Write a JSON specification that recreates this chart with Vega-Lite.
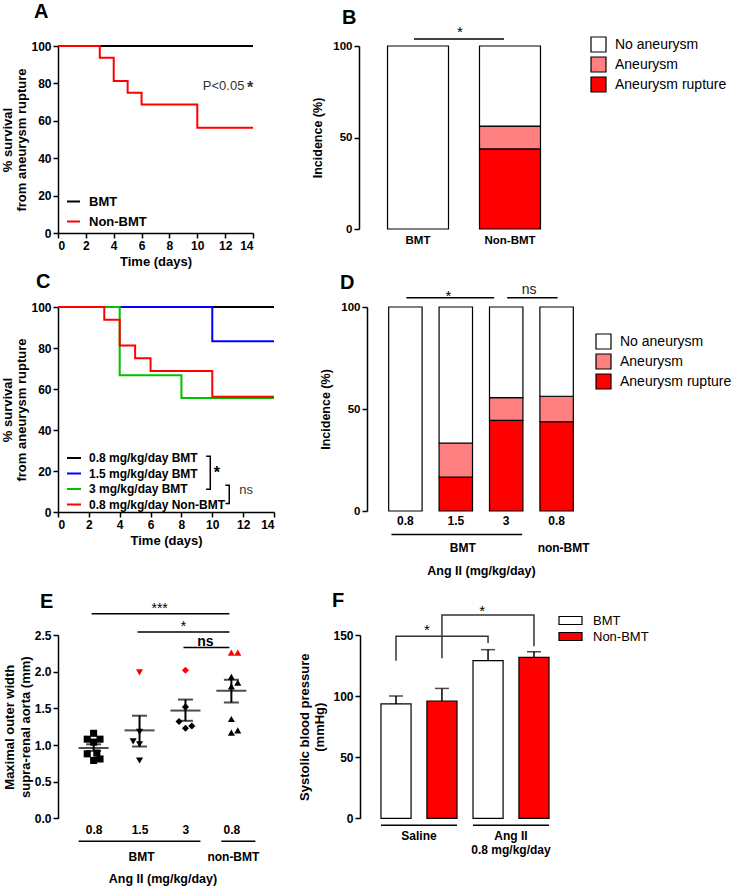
{
"$schema":"https://vega.github.io/schema/vega-lite/v6.json",
"padding":{"left":1,"top":2,"right":2,"bottom":2},
"background":"white",
"config":{
  "font":"Liberation Sans",
  "view":{"stroke":null},
  "title":{"fontSize":20,"fontWeight":"bold","anchor":"start","frame":"group","color":"black","font":"Liberation Sans"},
  "axis":{"labelFont":"Liberation Sans","titleFont":"Liberation Sans","labelFontWeight":"bold","titleFontWeight":"bold","labelFontSize":12,"titleFontSize":13,"labelColor":"black","titleColor":"black","domainColor":"black","tickColor":"black","domainWidth":1.5,"tickWidth":1.5,"tickSize":5,"grid":false,"labelPadding":2,"titlePadding":2,"labelOverlap":false},
  "legend":{"labelFont":"Liberation Sans","labelColor":"black","titleFont":"Liberation Sans"},
  "text":{"font":"Liberation Sans","color":"black"}
},
"datasets":{
  "survA":[
    {"day":0,"pct":100,"group":"BMT"},{"day":14,"pct":100,"group":"BMT"},
    {"day":0,"pct":100,"group":"Non-BMT"},{"day":3,"pct":93.75,"group":"Non-BMT"},{"day":4,"pct":81.25,"group":"Non-BMT"},{"day":5,"pct":75,"group":"Non-BMT"},{"day":6,"pct":68.75,"group":"Non-BMT"},{"day":10,"pct":56.25,"group":"Non-BMT"},{"day":14,"pct":56.25,"group":"Non-BMT"}],
  "incB":[
    {"grp":"BMT","status":"No aneurysm","pct":100,"k":3},
    {"grp":"Non-BMT","status":"Aneurysm rupture","pct":43.75,"k":1},
    {"grp":"Non-BMT","status":"Aneurysm","pct":12.5,"k":2},
    {"grp":"Non-BMT","status":"No aneurysm","pct":43.75,"k":3}],
  "survC":[
    {"day":0,"pct":100,"group":"0.8 mg/kg/day BMT"},{"day":14,"pct":100,"group":"0.8 mg/kg/day BMT"},
    {"day":0,"pct":100,"group":"1.5 mg/kg/day BMT"},{"day":10,"pct":83.33,"group":"1.5 mg/kg/day BMT"},{"day":14,"pct":83.33,"group":"1.5 mg/kg/day BMT"},
    {"day":0,"pct":100,"group":"3 mg/kg/day BMT"},{"day":4,"pct":66.67,"group":"3 mg/kg/day BMT"},{"day":8,"pct":55.56,"group":"3 mg/kg/day BMT"},{"day":14,"pct":55.56,"group":"3 mg/kg/day BMT"},
    {"day":0,"pct":100,"group":"0.8 mg/kg/day Non-BMT"},{"day":3,"pct":93.75,"group":"0.8 mg/kg/day Non-BMT"},{"day":4,"pct":81.25,"group":"0.8 mg/kg/day Non-BMT"},{"day":5,"pct":75,"group":"0.8 mg/kg/day Non-BMT"},{"day":6,"pct":68.75,"group":"0.8 mg/kg/day Non-BMT"},{"day":10,"pct":56.25,"group":"0.8 mg/kg/day Non-BMT"},{"day":14,"pct":56.25,"group":"0.8 mg/kg/day Non-BMT"}],
  "incD":[
    {"grp":"0.8 BMT","status":"No aneurysm","pct":100,"k":3},
    {"grp":"1.5 BMT","status":"Aneurysm rupture","pct":16.67,"k":1},
    {"grp":"1.5 BMT","status":"Aneurysm","pct":16.67,"k":2},
    {"grp":"1.5 BMT","status":"No aneurysm","pct":66.66,"k":3},
    {"grp":"3 BMT","status":"Aneurysm rupture","pct":44.44,"k":1},
    {"grp":"3 BMT","status":"Aneurysm","pct":11.11,"k":2},
    {"grp":"3 BMT","status":"No aneurysm","pct":44.45,"k":3},
    {"grp":"0.8 non-BMT","status":"Aneurysm rupture","pct":43.75,"k":1},
    {"grp":"0.8 non-BMT","status":"Aneurysm","pct":12.5,"k":2},
    {"grp":"0.8 non-BMT","status":"No aneurysm","pct":43.75,"k":3}],
  "ptsE":[
    {"grp":"0.8 BMT","v":1.16,"lane":"c","rupt":"no"},{"grp":"0.8 BMT","v":1.08,"lane":"a","rupt":"no"},{"grp":"0.8 BMT","v":1.08,"lane":"e","rupt":"no"},{"grp":"0.8 BMT","v":1.04,"lane":"c","rupt":"no"},
    {"grp":"0.8 BMT","v":0.88,"lane":"a","rupt":"no"},{"grp":"0.8 BMT","v":0.89,"lane":"d","rupt":"no"},{"grp":"0.8 BMT","v":0.81,"lane":"e","rupt":"no"},{"grp":"0.8 BMT","v":0.79,"lane":"c","rupt":"no"},
    {"grp":"1.5 BMT","v":1.99,"lane":"c","rupt":"yes"},{"grp":"1.5 BMT","v":1.18,"lane":"c","rupt":"no"},{"grp":"1.5 BMT","v":1.05,"lane":"a","rupt":"no"},{"grp":"1.5 BMT","v":1.01,"lane":"c","rupt":"no"},{"grp":"1.5 BMT","v":0.79,"lane":"c","rupt":"no"},
    {"grp":"3 BMT","v":2.02,"lane":"c","rupt":"yes"},{"grp":"3 BMT","v":1.52,"lane":"c","rupt":"no"},{"grp":"3 BMT","v":1.32,"lane":"a","rupt":"no"},{"grp":"3 BMT","v":1.23,"lane":"c","rupt":"no"},{"grp":"3 BMT","v":1.26,"lane":"e","rupt":"no"},
    {"grp":"0.8 non-BMT","v":2.26,"lane":"c","rupt":"yes"},{"grp":"0.8 non-BMT","v":2.26,"lane":"e","rupt":"yes"},{"grp":"0.8 non-BMT","v":1.93,"lane":"c","rupt":"no"},{"grp":"0.8 non-BMT","v":1.85,"lane":"e","rupt":"no"},
    {"grp":"0.8 non-BMT","v":1.8,"lane":"c","rupt":"no"},{"grp":"0.8 non-BMT","v":1.355,"lane":"c","rupt":"no"},{"grp":"0.8 non-BMT","v":1.17,"lane":"c","rupt":"no"},{"grp":"0.8 non-BMT","v":1.2,"lane":"e","rupt":"no"}],
  "statsE":[
    {"grp":"0.8 BMT","mean":0.96,"lo":0.92,"hi":1.01},
    {"grp":"1.5 BMT","mean":1.2,"lo":0.98,"hi":1.4},
    {"grp":"3 BMT","mean":1.47,"lo":1.33,"hi":1.62},
    {"grp":"0.8 non-BMT","mean":1.74,"lo":1.58,"hi":1.89}],
  "bpF":[
    {"grp":"Saline","tx":"BMT","m":93.6,"hi":100.1},
    {"grp":"Saline","tx":"Non-BMT","m":96,"hi":106.3},
    {"grp":"Ang II","tx":"BMT","m":129,"hi":138},
    {"grp":"Ang II","tx":"Non-BMT","m":131.7,"hi":136.3}],
  "brF":[
    {"b":1,"o":1,"grp":"Saline","tx":"BMT","y":129},{"b":1,"o":2,"grp":"Saline","tx":"BMT","y":148.9},{"b":1,"o":3,"grp":"Ang II","tx":"BMT","y":148.9},{"b":1,"o":4,"grp":"Ang II","tx":"BMT","y":143.4},
    {"b":2,"o":1,"grp":"Saline","tx":"Non-BMT","y":130.9},{"b":2,"o":2,"grp":"Saline","tx":"Non-BMT","y":166.3},{"b":2,"o":3,"grp":"Ang II","tx":"Non-BMT","y":166.3},{"b":2,"o":4,"grp":"Ang II","tx":"Non-BMT","y":140.7}]
},
"spacing":4,
"resolve":{"scale":{"color":"independent","shape":"independent","xOffset":"independent"},"legend":{"color":"independent","shape":"independent"}},
"vconcat":[
 {"spacing":54,
  "resolve":{"scale":{"color":"independent","shape":"independent","xOffset":"independent"},"legend":{"color":"independent","shape":"independent"}},
  "hconcat":[
  {"width":195,"height":187,
   "title":{"text":"A","dx":-24,"offset":18},
   "layer":[
    {"data":{"name":"survA"},
     "mark":{"type":"line","interpolate":"step-after","strokeWidth":2},
     "encoding":{
      "x":{"field":"day","type":"quantitative","scale":{"domain":[0,14],"nice":false},"axis":{"values":[0,2,4,6,8,10,12,14],"tickCount":20,"format":"d","labelOverlap":false,"title":"Time (days)","titlePadding":4}},
      "y":{"field":"pct","type":"quantitative","scale":{"domain":[0,100],"nice":false},"axis":{"values":[0,20,40,60,80,100],"tickCount":20,"format":"d","labelOverlap":false,"title":["% survival","from aneurysm rupture"],"titleLineHeight":14}},
      "color":{"field":"group","type":"nominal","scale":{"domain":["BMT","Non-BMT"],"range":["#000000","#ff0000"]},
        "legend":{"title":null,"orient":"none","legendX":8,"legendY":148,"symbolType":"stroke","symbolSize":169,"symbolStrokeWidth":2,"labelFontSize":13,"labelFontWeight":"bold","labelOffset":8,"rowPadding":5}}
     }},
    {"data":{"values":[{"day":10.4,"pct":78.5,"t":"P<0.05"}]},
     "mark":{"type":"text","align":"left","baseline":"middle","fontSize":13,"color":"#333333"},
     "encoding":{"x":{"field":"day","type":"quantitative"},"y":{"field":"pct","type":"quantitative"},"text":{"field":"t"}}},
    {"data":{"values":[{"day":13.8,"pct":77.5,"t":"*"}]},
     "mark":{"type":"text","align":"center","baseline":"middle","fontSize":16,"fontWeight":"bold","color":"#333333"},
     "encoding":{"x":{"field":"day","type":"quantitative"},"y":{"field":"pct","type":"quantitative"},"text":{"field":"t"}}}
   ]},
  {"width":210,"height":183,
   "title":{"text":"B","dx":-17,"offset":-3},
   "layer":[
    {"data":{"name":"incB"},
     "mark":{"type":"bar","stroke":"black","strokeWidth":1.2},
     "encoding":{
      "x":{"field":"grp","type":"nominal","scale":{"domain":["BMT","Non-BMT"],"paddingInner":0.337,"paddingOuter":0.31},"axis":{"title":null,"domain":false,"ticks":false,"labelAngle":0,"labelFontSize":11.5,"labelPadding":5}},
      "y":{"field":"pct","type":"quantitative","stack":"zero","scale":{"domain":[0,100],"nice":false},"axis":{"values":[0,50,100],"tickCount":10,"format":"d","title":"Incidence (%)","labelFontSize":11.5,"titleFontSize":12.5,"titlePadding":8}},
      "color":{"field":"status","type":"nominal","scale":{"domain":["No aneurysm","Aneurysm","Aneurysm rupture"],"range":["#ffffff","#ff8080","#ff0000"]},
        "legend":{"title":null,"orient":"none","legendX":231,"legendY":-10,"symbolType":"square","symbolSize":225,"symbolStrokeColor":"black","symbolStrokeWidth":1.2,"labelFontSize":14,"labelOffset":8,"rowPadding":-1}},
      "order":{"field":"k","type":"quantitative"}
     }},
    {"data":{"values":[{"a":"BMT","b":"Non-BMT","y":103.8}]},
     "mark":{"type":"rule","strokeWidth":1.5,"color":"black","xOffset":-4,"x2Offset":-6},
     "encoding":{"x":{"field":"a","type":"nominal"},"x2":{"field":"b"},"y":{"field":"y","type":"quantitative"}}},
    {"data":{"values":[{"a":"BMT","y":107.5,"t":"*"}]},
     "mark":{"type":"text","dx":42,"fontSize":15,"baseline":"middle"},
     "encoding":{"x":{"field":"a","type":"nominal"},"y":{"field":"y","type":"quantitative"},"text":{"field":"t"}}}
   ]}
 ]},
 {"spacing":41,
  "resolve":{"scale":{"color":"independent","shape":"independent","xOffset":"independent"},"legend":{"color":"independent","shape":"independent"}},
  "hconcat":[
  {"width":216,"height":205,
   "title":{"text":"C","dx":-22,"offset":9},
   "layer":[
    {"data":{"name":"survC"},
     "mark":{"type":"line","interpolate":"step-after","strokeWidth":2},
     "encoding":{
      "x":{"field":"day","type":"quantitative","scale":{"domain":[0,14],"nice":false},"axis":{"values":[0,2,4,6,8,10,12,14],"tickCount":20,"format":"d","labelOverlap":false,"title":"Time (days)","titlePadding":4}},
      "y":{"field":"pct","type":"quantitative","scale":{"domain":[0,100],"nice":false},"axis":{"values":[0,20,40,60,80,100],"tickCount":20,"format":"d","labelOverlap":false,"title":["% survival","from aneurysm rupture"],"titleLineHeight":14}},
      "color":{"field":"group","type":"nominal","scale":{"domain":["0.8 mg/kg/day BMT","1.5 mg/kg/day BMT","3 mg/kg/day BMT","0.8 mg/kg/day Non-BMT"],"range":["#000000","#0000ff","#00c000","#ff0000"]},
        "legend":{"title":null,"orient":"none","legendX":8,"legendY":143,"symbolType":"stroke","symbolSize":196,"symbolStrokeWidth":2,"labelFontSize":12,"labelFontWeight":"bold","labelOffset":7,"rowPadding":1.5}}
     }},
    {"data":{"values":[
      {"b":1,"o":1,"day":9.6,"pct":27.2},{"b":1,"o":2,"day":9.87,"pct":27.2},{"b":1,"o":3,"day":9.87,"pct":11.1},{"b":1,"o":4,"day":9.6,"pct":11.1},
      {"b":2,"o":1,"day":10.85,"pct":13},{"b":2,"o":2,"day":11.1,"pct":13},{"b":2,"o":3,"day":11.1,"pct":4.2},{"b":2,"o":4,"day":10.85,"pct":4.2}]},
     "mark":{"type":"line","color":"black","strokeWidth":1.5},
     "encoding":{"x":{"field":"day","type":"quantitative"},"y":{"field":"pct","type":"quantitative"},"order":{"field":"o","type":"quantitative"},"detail":{"field":"b","type":"nominal"}}},
    {"data":{"values":[{"day":10.1,"pct":19,"t":"*"}]},
     "mark":{"type":"text","align":"left","baseline":"middle","fontSize":16,"fontWeight":"bold"},
     "encoding":{"x":{"field":"day","type":"quantitative"},"y":{"field":"pct","type":"quantitative"},"text":{"field":"t"}}},
    {"data":{"values":[{"day":11.75,"pct":10.5,"t":"ns"}]},
     "mark":{"type":"text","align":"left","baseline":"middle","fontSize":13,"color":"#333333"},
     "encoding":{"x":{"field":"day","type":"quantitative"},"y":{"field":"pct","type":"quantitative"},"text":{"field":"t"}}}
   ]},
  {"width":228,"height":204,
   "title":{"text":"D","dx":-27,"offset":-10},
   "layer":[
    {"data":{"name":"incD"},
     "mark":{"type":"bar","stroke":"black","strokeWidth":1.2},
     "encoding":{
      "x":{"field":"grp","type":"nominal","scale":{"domain":["0.8 BMT","1.5 BMT","3 BMT","0.8 non-BMT"],"paddingInner":0.337,"paddingOuter":0.43},"axis":{"title":["Ang II (mg/kg/day)"," "],"titleLineHeight":9,"titlePadding":38,"titleFontSize":12.5,"domain":false,"ticks":false,"labelAngle":0,"labelFontSize":12,"labelPadding":4,"labelExpr":"split(datum.value, ' ')[0]"}},
      "y":{"field":"pct","type":"quantitative","stack":"zero","scale":{"domain":[0,100],"nice":false},"axis":{"values":[0,50,100],"tickCount":10,"format":"d","title":"Incidence (%)","labelFontSize":11.5,"titleFontSize":12.5,"titlePadding":8}},
      "color":{"field":"status","type":"nominal","scale":{"domain":["No aneurysm","Aneurysm","Aneurysm rupture"],"range":["#ffffff","#ff8080","#ff0000"]},
        "legend":{"title":null,"orient":"none","legendX":228,"legendY":26,"symbolType":"square","symbolSize":225,"symbolStrokeColor":"black","symbolStrokeWidth":1.2,"labelFontSize":14,"labelOffset":8,"rowPadding":-1}},
      "order":{"field":"k","type":"quantitative"}
     }},
    {"data":{"values":[{"a":"0.8 BMT","b":"3 BMT","y":104.5}]},
     "mark":{"type":"rule","strokeWidth":1.5,"color":"black","xOffset":1,"x2Offset":-12},
     "encoding":{"x":{"field":"a","type":"nominal"},"x2":{"field":"b"},"y":{"field":"y","type":"quantitative"}}},
    {"data":{"values":[{"a":"3 BMT","b":"0.8 non-BMT","y":104.5}]},
     "mark":{"type":"rule","strokeWidth":1.5,"color":"black","xOffset":1,"x2Offset":1},
     "encoding":{"x":{"field":"a","type":"nominal"},"x2":{"field":"b"},"y":{"field":"y","type":"quantitative"}}},
    {"data":{"values":[{"a":"0.8 BMT","y":105.5,"t":"*"}]},
     "mark":{"type":"text","dx":43,"fontSize":15,"baseline":"middle"},
     "encoding":{"x":{"field":"a","type":"nominal"},"y":{"field":"y","type":"quantitative"},"text":{"field":"t"}}},
    {"data":{"values":[{"a":"3 BMT","y":108.5,"t":"ns"}]},
     "mark":{"type":"text","dx":23,"fontSize":14,"baseline":"middle","color":"#222222"},
     "encoding":{"x":{"field":"a","type":"nominal"},"y":{"field":"y","type":"quantitative"},"text":{"field":"t"}}},
    {"data":{"values":[{"a":"0.8 BMT","b":"3 BMT","y":-11.5}]},
     "mark":{"type":"rule","strokeWidth":1.5,"color":"black","xOffset":-14,"x2Offset":16},
     "encoding":{"x":{"field":"a","type":"nominal"},"x2":{"field":"b"},"y":{"field":"y","type":"quantitative"}}},
    {"data":{"values":[{"a":"1.5 BMT","y":-18,"t":"BMT"},{"a":"0.8 non-BMT","y":-18,"t":"non-BMT"}]},
     "mark":{"type":"text","dx":7,"fontSize":12,"fontWeight":"bold","baseline":"middle"},
     "encoding":{"x":{"field":"a","type":"nominal"},"y":{"field":"y","type":"quantitative"},"text":{"field":"t"}}}
   ]}
 ]},
 {"spacing":31,
  "resolve":{"scale":{"color":"independent","shape":"independent","xOffset":"independent"},"legend":{"color":"independent","shape":"independent"}},
  "hconcat":[
  {"width":209,"height":183.4,
   "title":{"text":"E","dx":-18,"offset":-10},
   "layer":[
    {"data":{"name":"ptsE"},
     "mark":{"type":"point","filled":true,"opacity":1,"size":50},
     "encoding":{
      "x":{"field":"grp","type":"nominal","scale":{"type":"point","domain":["0.8 BMT","1.5 BMT","3 BMT","0.8 non-BMT"],"padding":0.776},"axis":{"title":"Ang II (mg/kg/day)","titlePadding":37,"titleFontSize":12.5,"domain":false,"ticks":false,"labelAngle":0,"labelFontSize":12,"labelPadding":6,"labelOverlap":false,"labelExpr":"split(datum.value, ' ')[0]"}},
      "xOffset":{"field":"lane","type":"nominal","scale":{"type":"point","domain":["a","b","c","d","e"],"range":[-8,8]}},
      "y":{"field":"v","type":"quantitative","scale":{"domain":[0,2.5],"nice":false},"axis":{"values":[0,0.5,1,1.5,2,2.5],"tickCount":20,"labelOverlap":false,"format":".1f","title":["Maximal outer width","supra-renal aorta (mm)"],"titleLineHeight":16}},
      "shape":{"field":"grp","type":"nominal","scale":{"domain":["0.8 BMT","1.5 BMT","3 BMT","0.8 non-BMT"],"range":["square","triangle-down","diamond","triangle-up"]},"legend":null},
      "color":{"field":"rupt","type":"nominal","scale":{"domain":["no","yes"],"range":["#000000","#ff0000"]},"legend":null}
     }},
    {"data":{"name":"statsE"},
     "mark":{"type":"tick","size":30,"thickness":2,"color":"black"},
     "encoding":{"x":{"field":"grp","type":"nominal"},"y":{"field":"mean","type":"quantitative"}}},
    {"data":{"name":"statsE"},
     "mark":{"type":"rule","strokeWidth":2,"color":"black"},
     "encoding":{"x":{"field":"grp","type":"nominal"},"y":{"field":"lo","type":"quantitative"},"y2":{"field":"hi"}}},
    {"data":{"name":"statsE"},
     "mark":{"type":"tick","size":15,"thickness":2,"color":"black"},
     "encoding":{"x":{"field":"grp","type":"nominal"},"y":{"field":"lo","type":"quantitative"}}},
    {"data":{"name":"statsE"},
     "mark":{"type":"tick","size":15,"thickness":2,"color":"black"},
     "encoding":{"x":{"field":"grp","type":"nominal"},"y":{"field":"hi","type":"quantitative"}}},
    {"data":{"values":[{"a":"0.8 BMT","b":"0.8 non-BMT","y":2.79},{"a":"1.5 BMT","b":"0.8 non-BMT","y":2.54},{"a":"3 BMT","b":"0.8 non-BMT","y":2.33}]},
     "mark":{"type":"rule","strokeWidth":1.5,"color":"black","xOffset":-2,"x2Offset":-2},
     "encoding":{"x":{"field":"a","type":"nominal"},"x2":{"field":"b"},"y":{"field":"y","type":"quantitative"}}},
    {"data":{"values":[{"a":"0.8 BMT","y":2.86,"t":"***"}]},
     "mark":{"type":"text","dx":66,"fontSize":14,"baseline":"middle"},
     "encoding":{"x":{"field":"a","type":"nominal"},"y":{"field":"y","type":"quantitative"},"text":{"field":"t"}}},
    {"data":{"values":[{"a":"1.5 BMT","y":2.61,"t":"*"}]},
     "mark":{"type":"text","dx":44,"fontSize":14,"baseline":"middle"},
     "encoding":{"x":{"field":"a","type":"nominal"},"y":{"field":"y","type":"quantitative"},"text":{"field":"t"}}},
    {"data":{"values":[{"a":"3 BMT","y":2.41,"t":"ns"}]},
     "mark":{"type":"text","dx":20,"fontSize":14,"fontWeight":"bold","baseline":"middle"},
     "encoding":{"x":{"field":"a","type":"nominal"},"y":{"field":"y","type":"quantitative"},"text":{"field":"t"}}},
    {"data":{"values":[{"a":"0.8 BMT","b":"3 BMT","y":-0.31}]},
     "mark":{"type":"rule","strokeWidth":1.5,"color":"black","xOffset":-15,"x2Offset":15},
     "encoding":{"x":{"field":"a","type":"nominal"},"x2":{"field":"b"},"y":{"field":"y","type":"quantitative"}}},
    {"data":{"values":[{"a":"0.8 non-BMT","b":"0.8 non-BMT","y":-0.31}]},
     "mark":{"type":"rule","strokeWidth":1.5,"color":"black","xOffset":-10,"x2Offset":24},
     "encoding":{"x":{"field":"a","type":"nominal"},"x2":{"field":"b"},"y":{"field":"y","type":"quantitative"}}},
    {"data":{"values":[{"a":"1.5 BMT","y":-0.52,"t":"BMT"},{"a":"0.8 non-BMT","y":-0.52,"t":"non-BMT"}]},
     "mark":{"type":"text","dx":2,"fontSize":12,"fontWeight":"bold","baseline":"middle"},
     "encoding":{"x":{"field":"a","type":"nominal"},"y":{"field":"y","type":"quantitative"},"text":{"field":"t"}}}
   ]},
  {"width":210,"height":183.4,
   "title":{"text":"F","dx":-28,"offset":-7},
   "layer":[
    {"data":{"name":"bpF"},
     "mark":{"type":"bar","stroke":"black","strokeWidth":1.2},
     "encoding":{
      "x":{"field":"grp","type":"nominal","scale":{"domain":["Saline","Ang II"],"paddingInner":0.174,"paddingOuter":0.228},"axis":{"title":null,"domain":false,"ticks":false,"labelAngle":0,"labelFontSize":12,"labelPadding":12,"labelExpr":"datum.value == 'Saline' ? 'Saline' : ['Ang II', '0.8 mg/kg/day']"}},
      "xOffset":{"field":"tx","type":"nominal","scale":{"domain":["BMT","Non-BMT"],"paddingInner":0.345,"paddingOuter":0}},
      "y":{"field":"m","type":"quantitative","scale":{"domain":[0,150],"nice":false},"axis":{"values":[0,50,100,150],"tickCount":10,"format":"d","labelOverlap":false,"title":["Systolic blood pressure","(mmHg)"],"titlePadding":6}},
      "color":{"field":"tx","type":"nominal","scale":{"domain":["BMT","Non-BMT"],"range":["#ffffff","#ff0000"]},
        "legend":{"title":null,"orient":"none","legendX":204,"legendY":-21,"symbolType":"M-2.3,-0.8H2.3V0.8H-2.3Z","symbolSize":100,"symbolStrokeColor":"black","symbolStrokeWidth":1.2,"labelFontSize":13,"labelOffset":16,"rowPadding":2}}
     }},
    {"data":{"name":"bpF"},
     "mark":{"type":"rule","strokeWidth":1.5,"color":"black"},
     "encoding":{"x":{"field":"grp","type":"nominal"},"xOffset":{"field":"tx","type":"nominal"},"y":{"field":"m","type":"quantitative"},"y2":{"field":"hi"}}},
    {"data":{"name":"bpF"},
     "mark":{"type":"tick","size":14,"thickness":1.5,"color":"black"},
     "encoding":{"x":{"field":"grp","type":"nominal"},"xOffset":{"field":"tx","type":"nominal"},"y":{"field":"hi","type":"quantitative"}}},
    {"data":{"name":"brF"},
     "mark":{"type":"line","strokeWidth":1.5,"color":"#333333"},
     "encoding":{"x":{"field":"grp","type":"nominal"},"xOffset":{"field":"tx","type":"nominal"},"y":{"field":"y","type":"quantitative"},"order":{"field":"o","type":"quantitative"},"detail":{"field":"b","type":"nominal"}}},
    {"data":{"values":[{"grp":"Saline","tx":"BMT","y":153.7,"t":"*"}]},
     "mark":{"type":"text","dx":31,"fontSize":15,"baseline":"middle"},
     "encoding":{"x":{"field":"grp","type":"nominal"},"xOffset":{"field":"tx","type":"nominal"},"y":{"field":"y","type":"quantitative"},"text":{"field":"t"}}},
    {"data":{"values":[{"grp":"Ang II","tx":"BMT","y":170,"t":"*"}]},
     "mark":{"type":"text","dx":-6,"fontSize":15,"baseline":"middle"},
     "encoding":{"x":{"field":"grp","type":"nominal"},"xOffset":{"field":"tx","type":"nominal"},"y":{"field":"y","type":"quantitative"},"text":{"field":"t"}}},
    {"data":{"values":[{"grp":"Saline","y1":-5,"y2":-6.3},{"grp":"Ang II","y1":-5,"y2":-6.3}]},
     "mark":{"type":"rect","color":"black"},
     "encoding":{"x":{"field":"grp","type":"nominal"},"y":{"field":"y1","type":"quantitative"},"y2":{"field":"y2"}}}
   ]}
 ]}
]
}
